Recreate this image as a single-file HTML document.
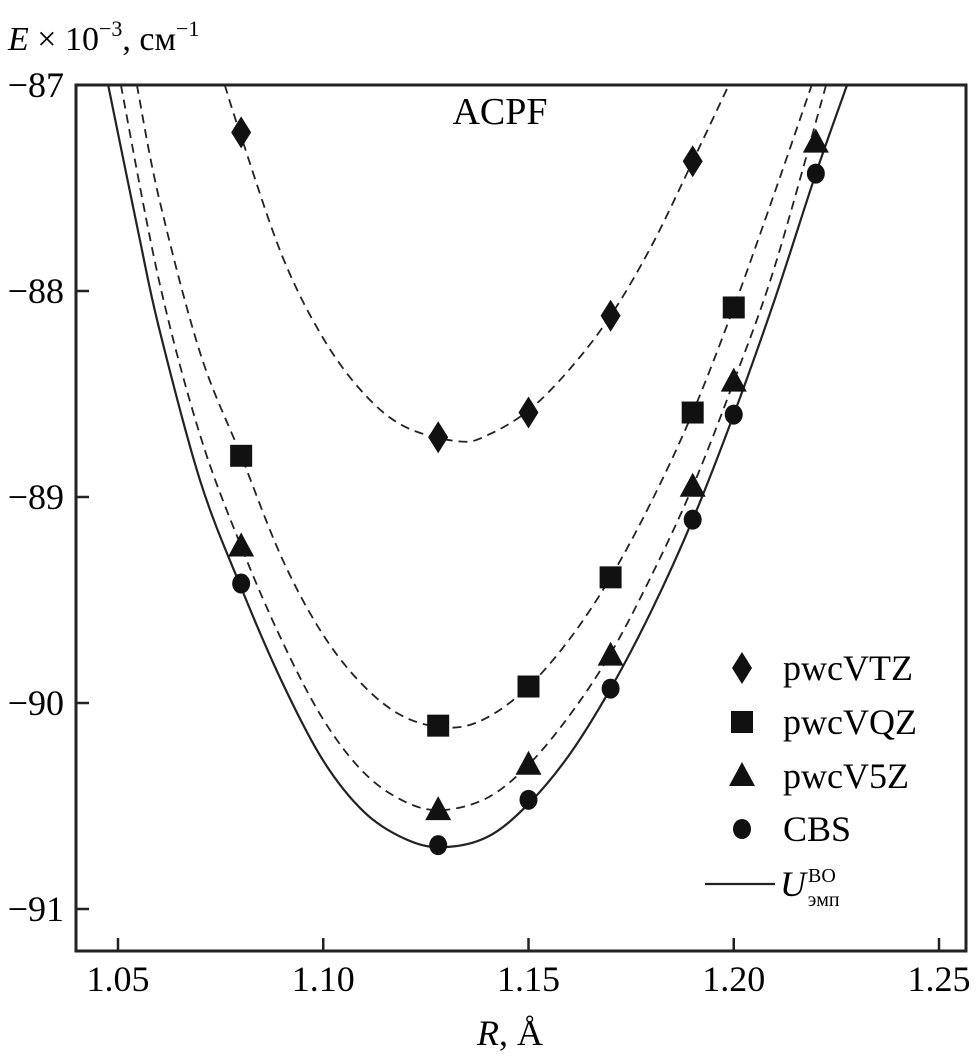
<!DOCTYPE html>
<html><head><meta charset="utf-8"><style>
html,body{margin:0;padding:0;background:#fff;}
svg{display:block;font-family:"Liberation Serif","DejaVu Serif",serif;}
</style></head><body>
<svg id="chart" width="976" height="1061" viewBox="0 0 976 1061" xmlns="http://www.w3.org/2000/svg">
<rect x="76" y="85" width="890" height="866" fill="none" stroke="#222" stroke-width="3"/>
<g id="ticks"></g>
<g id="curves"></g>
<g id="marks"></g>
<text x="500" y="124" font-size="38" text-anchor="middle">ACPF</text>
<text x="8" y="50" font-size="34"><tspan font-style="italic">E</tspan> × 10<tspan font-size="22" dy="-14">−3</tspan><tspan dy="14">, см</tspan><tspan font-size="22" dy="-14">−1</tspan></text>
<text x="510" y="1045" font-size="36" text-anchor="middle"><tspan font-style="italic">R</tspan>, Å</text>
<g id="legend"></g>
</svg>
<script>
const xTicks=[1.05,1.10,1.15,1.20,1.25];
const xTickLabels=["1.05","1.10","1.15","1.20","1.25"];
const yTicks=[-87,-88,-89,-90,-91];
const yTickLabels=["−87","−88","−89","−90","−91"];
const seriesNames=["pwcVTZ","pwcVQZ","pwcV5Z","CBS"];
const vtzR=[1.08,1.128,1.15,1.17,1.19];
const vtzE=[-87.23,-88.71,-88.59,-88.12,-87.37];
const vqzR=[1.08,1.128,1.15,1.17,1.19,1.20];
const vqzE=[-88.80,-90.11,-89.92,-89.39,-88.59,-88.08];
const v5zR=[1.08,1.128,1.15,1.17,1.19,1.20,1.22];
const v5zE=[-89.24,-90.52,-90.30,-89.77,-88.95,-88.44,-87.28];
const cbsR=[1.08,1.128,1.15,1.17,1.19,1.20,1.22];
const cbsE=[-89.42,-90.69,-90.47,-89.93,-89.11,-88.60,-87.43];
const empCurveR=[1.0476,1.055,1.06,1.07,1.08,1.09,1.10,1.11,1.12,1.129,1.14,1.15,1.16,1.17,1.18,1.19,1.20,1.21,1.22,1.2276];
const empCurveE=[-87.0,-87.72,-88.18,-88.92,-89.44,-89.90,-90.28,-90.53,-90.66,-90.70,-90.65,-90.49,-90.25,-89.93,-89.55,-89.11,-88.60,-88.04,-87.43,-87.0];
const v5zCurveR=[1.0507,1.06,1.07,1.08,1.09,1.10,1.11,1.12,1.129,1.14,1.15,1.16,1.17,1.18,1.19,1.20,1.21,1.2225];
const v5zCurveE=[-87.0,-87.95,-88.70,-89.24,-89.70,-90.08,-90.34,-90.48,-90.52,-90.46,-90.30,-90.06,-89.76,-89.38,-88.95,-88.44,-87.88,-87.0];
const vqzCurveR=[1.0546,1.06,1.07,1.08,1.09,1.10,1.11,1.12,1.131,1.14,1.15,1.16,1.17,1.18,1.19,1.20,1.21,1.219];
const vqzCurveE=[-87.0,-87.55,-88.30,-88.80,-89.30,-89.67,-89.92,-90.07,-90.12,-90.07,-89.92,-89.69,-89.39,-89.02,-88.59,-88.08,-87.52,-87.0];
const vtzCurveR=[1.076,1.08,1.09,1.10,1.11,1.12,1.133,1.14,1.15,1.16,1.17,1.18,1.19,1.1988];
const vtzCurveE=[-87.0,-87.25,-87.83,-88.23,-88.50,-88.66,-88.73,-88.70,-88.58,-88.38,-88.12,-87.78,-87.37,-87.0];

const NS="http://www.w3.org/2000/svg";
const X=r=>118+(r-1.05)*4105;
const Y=e=>85+(-87-e)*206;
function mk(tag,attrs,parent){const el=document.createElementNS(NS,tag);for(const k in attrs)el.setAttribute(k,attrs[k]);parent.appendChild(el);return el;}
const tg=document.getElementById('ticks');
xTicks.forEach((t,i)=>{
  const l=mk('line',{x1:X(t),x2:X(t),y1:951,y2:938,stroke:'#222','stroke-width':2.5},tg);
  
  
  const tx=mk('text',{x:X(t),y:991,'font-size':36,'text-anchor':'middle'},tg);tx.textContent=xTickLabels[i];
  
  
});
yTicks.forEach((t,i)=>{
  const l=mk('line',{x1:76,x2:89,y1:Y(t),y2:Y(t),stroke:'#222','stroke-width':2.5},tg);
  
  
  const tx=mk('text',{x:64,y:Y(t)+12,'font-size':36,'text-anchor':'end'},tg);tx.textContent=yTickLabels[i];
  
  
});
function smooth(pts){let d=`M${pts[0][0]},${pts[0][1]}`;for(let i=0;i<pts.length-1;i++){const p0=pts[i-1]||pts[i],p1=pts[i],p2=pts[i+1],p3=pts[i+2]||p2;
 d+=` C${p1[0]+(p2[0]-p0[0])/6},${p1[1]+(p2[1]-p0[1])/6} ${p2[0]-(p3[0]-p1[0])/6},${p2[1]-(p3[1]-p1[1])/6} ${p2[0]},${p2[1]}`;}return d;}
const cg=document.getElementById('curves');
[[empCurveR,empCurveE,null,'curve-empirical'],[v5zCurveR,v5zCurveE,'9,6','curve-pwcv5z'],[vqzCurveR,vqzCurveE,'9,6','curve-pwcvqz'],[vtzCurveR,vtzCurveE,'9,6','curve-pwcvtz']].forEach(c=>{
  const pts=c[0].map((r,i)=>[X(r),Y(c[1][i])]);
  const p=mk('path',{d:smooth(pts),fill:'none',stroke:'#222','stroke-width':c[2]?1.8:2.2},cg);
  if(c[2])p.setAttribute('stroke-dasharray',c[2]);
  
  
});
function marker(type,x,y,parent){
  if(type==0)return mk('polygon',{points:`${x},${y-16} ${x+10},${y} ${x},${y+16} ${x-10},${y}`,fill:'#111'},parent);
  if(type==1)return mk('rect',{x:x-11,y:y-11,width:22,height:22,fill:'#111'},parent);
  if(type==2)return mk('polygon',{points:`${x},${y-14} ${x+13},${y+10} ${x-13},${y+10}`,fill:'#111'},parent);
  return mk('ellipse',{cx:x,cy:y,rx:9,ry:10,fill:'#111'},parent);
}
const mg=document.getElementById('marks');
[[vtzR,vtzE],[vqzR,vqzE],[v5zR,v5zE],[cbsR,cbsE]].forEach((s,k)=>{
  s[0].forEach((r,i)=>{const m=marker(k,X(r),Y(s[1][i]),mg);
    
    });
});
const lg=document.getElementById('legend');
const ly=[668,722,776,829];
seriesNames.forEach((n,i)=>{
  const m=marker(i,742,ly[i],lg);
  
  
  const t=mk('text',{x:783,y:ly[i]+12,'font-size':36},lg);t.textContent=n;
  
  
});
const ll=mk('line',{x1:705,x2:775,y1:884,y2:884,stroke:'#222','stroke-width':2.2},lg);


const lt=mk('text',{x:780,y:896,'font-size':36},lg);
lt.innerHTML='<tspan font-style="italic">U</tspan><tspan font-size="20" dx="2" dy="-14">ВО</tspan><tspan font-size="20" dx="-28" dy="24">эмп</tspan>';


</script>
</body></html>
